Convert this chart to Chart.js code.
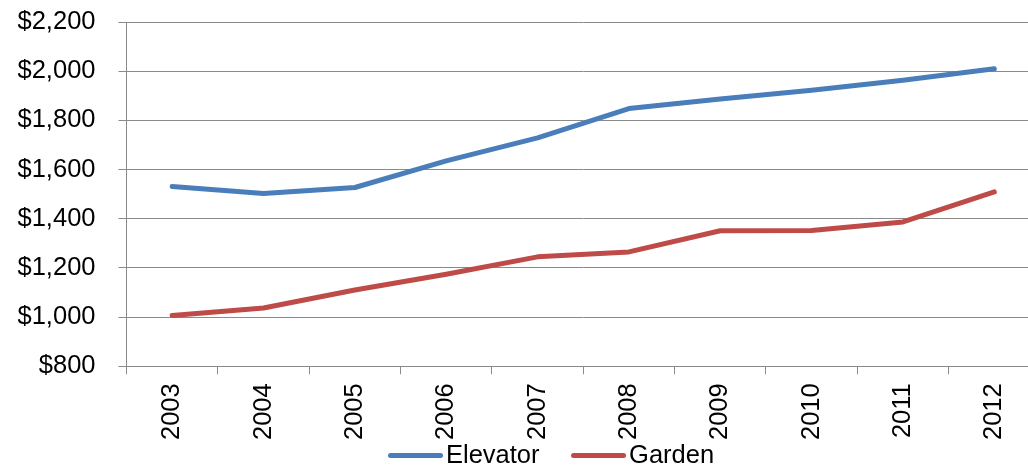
<!DOCTYPE html>
<html>
<head>
<meta charset="utf-8">
<script src="https://cdn.jsdelivr.net/npm/chart.js@4/dist/chart.umd.min.js"></script>
<style>
  html, body { margin: 0; padding: 0; background: #fff; overflow: hidden; }
  #wrap { width: 1028px; height: 468px; position: relative; overflow: hidden; }
</style>
</head>
<body>
<div id="wrap"><canvas id="c" width="1040" height="468"></canvas></div>
<script>
// Average monthly rent by building type
const years = ['2003', '2004', '2005', '2006', '2007', '2008', '2009', '2010', '2011', '2012'];
const elevator = [1531, 1503, 1527, 1635, 1729, 1848, 1887, 1922, 1963, 2010];
const garden = [1006, 1037, 1110, 1174, 1245, 1265, 1351, 1352, 1387, 1509];
const yMin = 800;
const yMax = 2200;
const yStep = 200;

const FONT = '"Liberation Sans", Arial, sans-serif';
const FONT_SIZE = 25.5;
const GRID = '#8a8a8a';

// Bottom legend: a short stroke in each series colour followed by its name
const lineLegend = {
  id: 'lineLegend',
  afterDraw(chart, args, opts) {
    const ctx = chart.ctx;
    ctx.save();
    ctx.font = FONT_SIZE + 'px ' + FONT;
    ctx.textBaseline = 'middle';
    ctx.textAlign = 'left';
    let x = opts.startX;
    chart.data.datasets.forEach((ds) => {
      ctx.beginPath();
      ctx.lineWidth = ds.borderWidth;
      ctx.lineCap = 'round';
      ctx.strokeStyle = ds.borderColor;
      ctx.moveTo(x, opts.y);
      ctx.lineTo(x + opts.lineLength, opts.y);
      ctx.stroke();
      const tx = x + opts.lineLength + opts.textGap;
      ctx.fillStyle = '#000';
      ctx.fillText(ds.label, tx, opts.y);
      x = tx + ctx.measureText(ds.label).width + opts.itemGap;
    });
    ctx.restore();
  }
};

new Chart(document.getElementById('c'), {
  type: 'line',
  data: {
    labels: years,
    datasets: [
      {
        label: 'Elevator',
        data: elevator,
        borderColor: '#4a7ebb',
        backgroundColor: '#4a7ebb',
        borderWidth: 5,
        borderCapStyle: 'round',
        borderJoinStyle: 'round',
        pointRadius: 0,
        tension: 0
      },
      {
        label: 'Garden',
        data: garden,
        borderColor: '#be4b48',
        backgroundColor: '#be4b48',
        borderWidth: 5,
        borderCapStyle: 'round',
        borderJoinStyle: 'round',
        pointRadius: 0,
        tension: 0
      }
    ]
  },
  plugins: [lineLegend],
  options: {
    responsive: false,
    animation: false,
    layout: { autoPadding: false, padding: { top: 22, right: 0, left: -5.5, bottom: 19 } },
    plugins: {
      tooltip: { enabled: false },
      legend: { display: false },
      lineLegend: {
        startX: 390.5,
        y: 455.5,
        lineLength: 50,
        textGap: 5.5,
        itemGap: 34,
        fontSize: FONT_SIZE
      }
    },
    scales: {
      x: {
        offset: true,
        afterFit: (s) => { s.paddingLeft = 0; s.paddingRight = 0; },
        grid: {
          offset: true,
          drawOnChartArea: false,
          drawTicks: true,
          tickLength: 8,
          color: GRID,
          lineWidth: 1
        },
        border: { display: true, color: GRID, width: 1 },
        ticks: {
          autoSkip: false,
          maxRotation: 90,
          minRotation: 90,
          padding: 9,
          color: '#000',
          font: { family: FONT, size: FONT_SIZE }
        }
      },
      y: {
        min: yMin,
        max: yMax,
        afterFit: (s) => { s.paddingTop = 0; },
        grid: {
          drawTicks: true,
          tickLength: 8,
          color: GRID,
          lineWidth: 1
        },
        border: { display: true, color: GRID, width: 1 },
        ticks: {
          stepSize: yStep,
          padding: 23,
          color: '#000',
          font: { family: FONT, size: FONT_SIZE },
          callback: (v) => '$' + Number(v).toLocaleString('en-US')
        }
      }
    }
  }
});
</script>
</body>
</html>
